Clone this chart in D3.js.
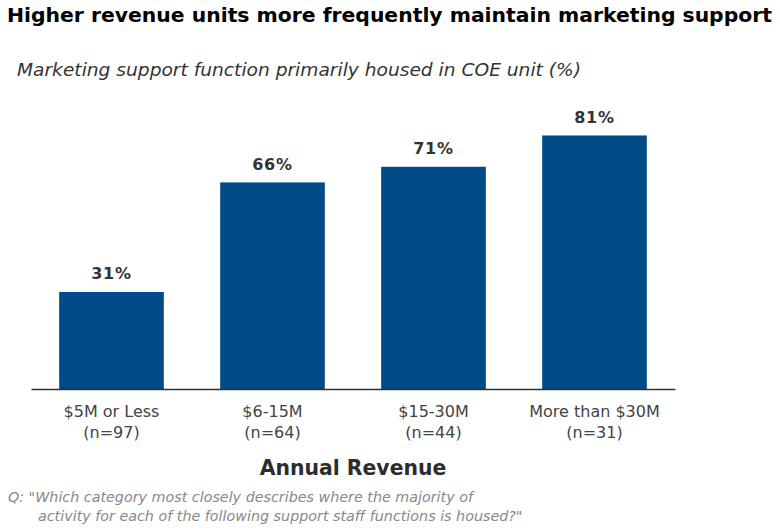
<!DOCTYPE html>
<html>
<head>
<meta charset="utf-8">
<script src="https://cdn.jsdelivr.net/npm/d3@7"></script>
<style>
  body { margin: 0; background: #fff; }
  svg { display: block; }
</style>
</head>
<body>
<div id="chart"></div>
<script>
// data
const categories = ["$5M or Less", "$6-15M", "$15-30M", "More than $30M"];
const sampleSizes = ["(n=97)", "(n=64)", "(n=44)", "(n=31)"];
const values = [31, 66, 71, 81];

const width = 780, height = 532;
const margin = {top: 76, right: 105, bottom: 143, left: 31};

const svg = d3.select("#chart")
  .append("svg")
  .attr("width", width)
  .attr("height", height);

// title + subtitle
svg.append("text")
  .attr("x", 7).attr("y", 22)
  .attr("font-family", "DejaVu Sans Condensed, DejaVu Sans")
  .attr("font-weight", "bold")
  .attr("font-size", 19)
  .attr("textLength", 765)
  .attr("lengthAdjust", "spacingAndGlyphs")
  .attr("fill", "#000")
  .text("Higher revenue units more frequently maintain marketing support");

svg.append("text")
  .attr("x", 17).attr("y", 76)
  .attr("font-family", "DejaVu Sans Condensed, DejaVu Sans")
  .attr("font-style", "italic")
  .attr("font-size", 18)
  .attr("textLength", 564)
  .attr("lengthAdjust", "spacingAndGlyphs")
  .attr("fill", "#333")
  .text("Marketing support function primarily housed in COE unit (%)");

const x = d3.scaleBand()
  .domain(categories)
  .range([margin.left, width - margin.right])
  .paddingInner(0.35)
  .paddingOuter(0.175);

const y = d3.scaleLinear()
  .domain([0, 100])
  .range([height - margin.bottom, margin.top]);

// bars
svg.append("g")
  .selectAll("rect")
  .data(values)
  .join("rect")
  .attr("x", (d, i) => x(categories[i]))
  .attr("y", d => y(d))
  .attr("width", x.bandwidth())
  .attr("height", d => y(0) - y(d))
  .attr("fill", "#004a87");

// value labels
svg.append("g")
  .selectAll("text")
  .data(values)
  .join("text")
  .attr("x", (d, i) => x(categories[i]) + x.bandwidth() / 2)
  .attr("y", d => y(d) - 12.5)
  .attr("text-anchor", "middle")
  .attr("font-family", "DejaVu Sans")
  .attr("font-weight", "bold")
  .attr("font-size", 16)
  .attr("letter-spacing", 0.8)
  .attr("fill", "#333")
  .text(d => d + "%");

// x axis
const xAxis = svg.append("g")
  .attr("transform", `translate(0,${y(0)})`)
  .call(d3.axisBottom(x).tickSize(0).tickSizeOuter(0).tickFormat(""));
xAxis.select(".domain").attr("stroke", "#333").attr("stroke-width", 1.5);

xAxis.selectAll(".tick text").remove();
xAxis.selectAll(".tick").each(function(d, i) {
  const t = d3.select(this).append("text")
    .attr("text-anchor", "middle")
    .attr("font-family", "DejaVu Sans")
    .attr("font-size", 16)
    .attr("fill", "#444");
  t.append("tspan").attr("x", 0).attr("y", 28).text(d);
  t.append("tspan").attr("x", 0).attr("y", 49).text(sampleSizes[i]);
});

// axis title
svg.append("text")
  .attr("x", 353).attr("y", 475)
  .attr("text-anchor", "middle")
  .attr("font-family", "DejaVu Sans")
  .attr("font-weight", "bold")
  .attr("font-size", 20.4)
  .attr("fill", "#2d2d2d")
  .text("Annual Revenue");

// footnote
const note = svg.append("text")
  .attr("font-family", "DejaVu Sans")
  .attr("font-style", "italic")
  .attr("font-size", 14.3)
  .attr("fill", "#888");
note.append("tspan").attr("x", 8).attr("y", 502)
  .text("Q: \"Which category most closely describes where the majority of");
note.append("tspan").attr("x", 38).attr("y", 521)
  .text("activity for each of the following support staff functions is housed?\"");
</script>
</body>
</html>
